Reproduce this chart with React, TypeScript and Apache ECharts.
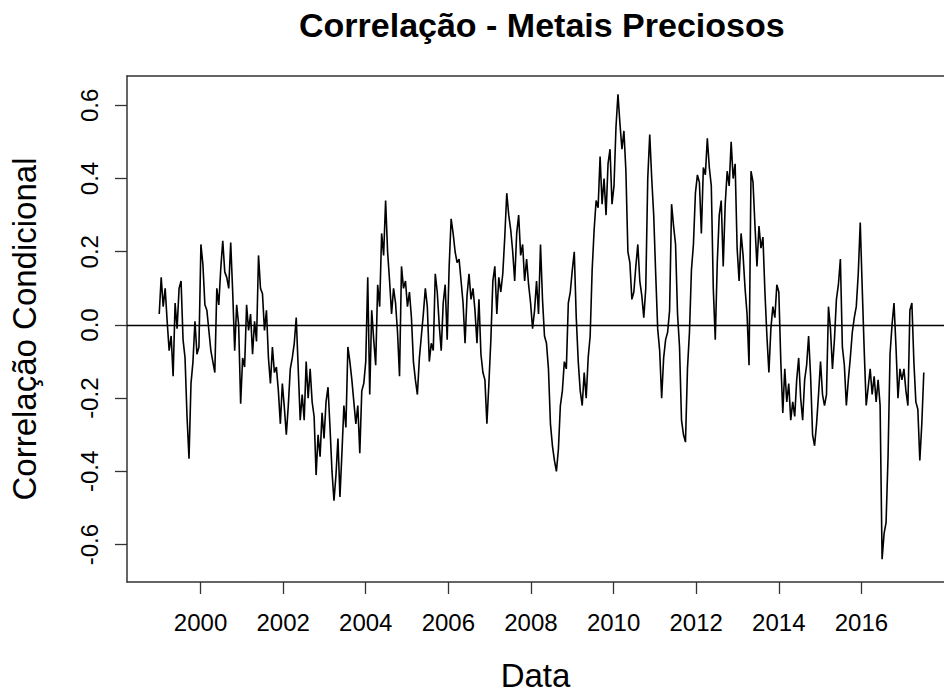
import React, { useEffect, useRef } from "react";
import * as echarts from "echarts";

const TITLE = "Correlação - Metais Preciosos";
const X_NAME = "Data";
const Y_NAME = "Correlação Condicional";
const X_TICKS = [2000, 2002, 2004, 2006, 2008, 2010, 2012, 2014, 2016];
const Y_TICKS = [-0.6, -0.4, -0.2, 0, 0.2, 0.4, 0.6];

// regular time index of the series (decimal years)
const START_YEAR = 1999.0;
const STEP_YEARS = 0.04808;

// conditional correlation values, in time order
const seg1999 = [0.03, 0.13, 0.05, 0.10, 0.01, -0.07, -0.03, -0.14, 0.06, -0.01, 0.10, 0.12, -0.04, -0.09, -0.25, -0.365, -0.16, -0.10, 0.01, -0.08, -0.06, 0.22, 0.165, 0.055, 0.04, -0.015, -0.07, -0.10, -0.13, 0.10, 0.055, 0.155, 0.23, 0.145, 0.13, 0.10, 0.225, 0.09, -0.07, 0.055, 0.0, -0.215, -0.09, -0.115, 0.055, -0.015, 0.03, -0.08, 0.01, -0.045, 0.19, 0.10, 0.085, -0.015, 0.04, -0.09, -0.16, -0.06, -0.13, -0.115, -0.18, -0.27, -0.16, -0.225];
const seg2002 = [-0.30, -0.22, -0.12, -0.09, -0.05, 0.02, -0.12, -0.26, -0.19, -0.26, -0.10, -0.20, -0.12, -0.21, -0.25, -0.41, -0.30, -0.36, -0.24, -0.31, -0.21, -0.17, -0.28, -0.40, -0.48, -0.41, -0.31, -0.47, -0.35, -0.22, -0.28, -0.06, -0.10, -0.15, -0.21, -0.27, -0.22, -0.35, -0.18, -0.16, -0.10, 0.13, -0.19, 0.04, -0.04, -0.11, 0.11, 0.05, 0.25, 0.19, 0.34, 0.20, 0.12, 0.03, 0.10, 0.06, -0.02, -0.14, 0.16, 0.10, 0.12, 0.05, 0.09, 0.02, -0.10];
const seg2005 = [-0.15, -0.19, -0.09, -0.03, 0.03, 0.10, 0.05, -0.10, -0.05, -0.07, 0.14, 0.09, 0.00, -0.07, 0.06, 0.11, -0.04, 0.16, 0.29, 0.25, 0.20, 0.17, 0.18, 0.12, 0.06, -0.05, 0.08, 0.14, 0.07, 0.10, 0.04, -0.05, 0.07, -0.08, -0.13, -0.15, -0.27, -0.16, -0.04, 0.12, 0.16, 0.03, 0.13, 0.09, 0.14, 0.24, 0.36, 0.30, 0.26, 0.20, 0.12, 0.25, 0.30, 0.19, 0.22, 0.12, 0.18, 0.11, 0.06, -0.01, 0.04, 0.12, 0.03, 0.22, 0.07];
const seg2008 = [-0.03, -0.05, -0.12, -0.27, -0.33, -0.37, -0.40, -0.34, -0.22, -0.18, -0.10, -0.12, 0.06, 0.09, 0.15, 0.20, 0.02, -0.10, -0.18, -0.22, -0.13, -0.20, -0.09, -0.03, 0.15, 0.26, 0.34, 0.32, 0.46, 0.33, 0.40, 0.30, 0.44, 0.48, 0.33, 0.38, 0.54, 0.63, 0.55, 0.48, 0.53, 0.42, 0.20, 0.17, 0.07, 0.09, 0.16, 0.22, 0.12, 0.08, 0.02, 0.10, 0.40, 0.52, 0.40, 0.30, 0.14, -0.01, -0.07, -0.20, -0.09, -0.04, -0.02, 0.04, 0.33];
const seg2011 = [0.27, 0.22, 0.03, -0.06, -0.26, -0.30, -0.32, -0.12, -0.02, 0.15, 0.22, 0.36, 0.41, 0.39, 0.25, 0.43, 0.41, 0.51, 0.43, 0.38, 0.10, -0.04, 0.17, 0.30, 0.34, 0.16, 0.33, 0.42, 0.38, 0.50, 0.40, 0.44, 0.21, 0.12, 0.25, 0.19, 0.10, 0.03, -0.11, 0.42, 0.39, 0.27, 0.16, 0.27, 0.21, 0.24, 0.09, -0.03, -0.13, -0.01, 0.05, 0.02, 0.11, 0.09, -0.10, -0.24, -0.12, -0.21, -0.16, -0.26, -0.21, -0.25, -0.15, -0.09, -0.20];
const seg2014 = [-0.26, -0.15, -0.11, -0.03, -0.14, -0.30, -0.33, -0.27, -0.19, -0.10, -0.19, -0.22, -0.19, 0.05, -0.01, -0.12, -0.04, 0.07, 0.11, 0.18, -0.06, -0.11, -0.22, -0.15, -0.09, -0.02, 0.02, 0.05, 0.14, 0.28, 0.10, -0.07, -0.22, -0.17, -0.12, -0.19, -0.14, -0.21, -0.15, -0.22, -0.64, -0.57, -0.54, -0.36, -0.08, 0.00, 0.06, -0.06, -0.20, -0.12, -0.15, -0.12, -0.18, -0.22, 0.04, 0.06, -0.10, -0.21, -0.23, -0.37, -0.27, -0.13];

const FONT = "'Liberation Sans', Arial, Helvetica, sans-serif";

export default function App() {
  const ref = useRef<HTMLDivElement>(null);

  useEffect(() => {
    if (!ref.current) return;
    const chart = echarts.init(ref.current, null, { renderer: "svg" });
    const values = [...seg1999, ...seg2002, ...seg2005, ...seg2008, ...seg2011, ...seg2014];
    const data = values.map((v, i) => [START_YEAR + i * STEP_YEARS, v]);

    const axisLineStyle = { color: "#333", width: 1.5 };

    chart.setOption({
      animation: false,
      backgroundColor: "#ffffff",
      textStyle: { fontFamily: FONT, color: "#000" },
      title: {
        text: TITLE,
        left: 294,
        top: 3,
        textStyle: { fontFamily: FONT, fontSize: 34, fontWeight: "bold", color: "#000" },
      },
      grid: { left: 121, right: 0, top: 76, bottom: 112, containLabel: false },
      xAxis: [
        {
          type: "value",
          position: "bottom",
          min: 1998.22,
          max: 2018.0,
          name: X_NAME,
          nameLocation: "middle",
          nameGap: 77,
          nameTextStyle: { fontFamily: FONT, fontSize: 33, color: "#000" },
          axisLine: { show: true, onZero: false, lineStyle: axisLineStyle },
          axisTick: { show: true, length: 12, inside: false, customValues: X_TICKS, lineStyle: { color: "#333", width: 1.3 } },
          axisLabel: {
            show: true,
            customValues: X_TICKS,
            margin: 28,
            fontFamily: FONT,
            fontSize: 24,
            color: "#000",
            formatter: (v: number) => String(Math.round(v)),
          },
          splitLine: { show: false },
        },
        {
          type: "value",
          position: "top",
          min: 1998.22,
          max: 2018.0,
          axisLine: { show: true, onZero: false, lineStyle: axisLineStyle },
          axisTick: { show: false },
          axisLabel: { show: false },
          splitLine: { show: false },
        },
      ],
      yAxis: {
        type: "value",
        min: -0.702,
        max: 0.68,
        name: Y_NAME,
        nameLocation: "middle",
        nameRotate: 90,
        nameGap: 86,
        nameTextStyle: { fontFamily: FONT, fontSize: 33, color: "#000" },
        axisLine: { show: true, onZero: false, lineStyle: axisLineStyle },
        axisTick: { show: true, length: 12, inside: false, customValues: Y_TICKS, lineStyle: { color: "#333", width: 1.3 } },
        axisLabel: {
          show: true,
          customValues: Y_TICKS,
          rotate: 90,
          margin: 26,
          fontFamily: FONT,
          fontSize: 24,
          color: "#000",
          formatter: (v: number) => v.toFixed(1),
        },
        splitLine: { show: false },
      },
      series: [
        {
          type: "line",
          data,
          showSymbol: false,
          symbol: "none",
          lineStyle: { color: "#000", width: 1.6 },
          markLine: {
            silent: true,
            symbol: "none",
            label: { show: false },
            lineStyle: { color: "#000", width: 1.3, type: "solid" },
            data: [{ yAxis: 0 }],
          },
        },
      ],
    });

    return () => chart.dispose();
  }, []);

  return (
    <div
      ref={ref}
      style={{ position: "absolute", left: 0, top: 0, width: 944, height: 697, background: "#fff" }}
    />
  );
}
